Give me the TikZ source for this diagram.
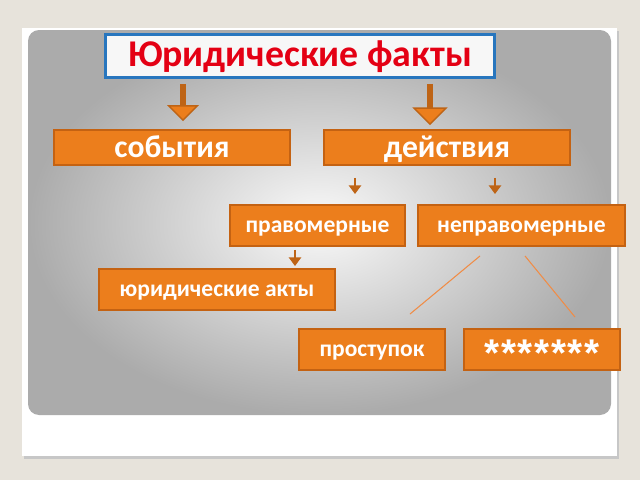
\documentclass[tikz,border=0pt]{standalone}
\usepackage{fontspec}
\setmainfont{Carlito}
\newfontfamily\starfont{Liberation Sans}[LetterSpace=4]
\usetikzlibrary{arrows.meta, calc, positioning}

\definecolor{bgbeige}{RGB}{231,227,219}
\definecolor{orng}{RGB}{236,126,28}
\definecolor{boxedge}{RGB}{196,98,18}
\definecolor{arrbrown}{RGB}{190,100,22}
\definecolor{titleblue}{RGB}{40,118,190}
\definecolor{titlered}{RGB}{228,0,20}
\definecolor{linorange}{RGB}{240,140,70}

\begin{document}
\begin{tikzpicture}[x=0.02cm, y=-0.02cm,
    box/.style={draw=boxedge, fill=orng, line width=1.1pt, text=white,
      font=\bfseries\fontsize{13.4}{16}\selectfont, minimum height=0.82cm, inner sep=0pt,
      text height=8pt, text depth=0pt},
    bigbox/.style={box, minimum height=0.7cm, font=\bfseries\fontsize{18}{20}\selectfont,
      text height=11pt},
    bigarrow/.style={draw=arrbrown, line width=3.4pt,
      -{Triangle[width=18pt, length=9pt, line width=0.8pt, fill=orng]}},
    smallarrow/.style={draw=arrbrown, line width=1.7pt, -{Triangle[width=7pt, length=5pt]}},
    thinline/.style={draw=linorange, line width=0.6pt}]
  % slide background
  \fill[bgbeige] (0,0) rectangle (640,480);
  \useasboundingbox (0,0) rectangle (640,480);
  \fill[black!22] (24,31) rectangle (619,459);
  \fill[white] (22,28) rectangle (617,456);
  \shade[rounded corners=0.22cm, inner color=gray!4, outer color=gray!66] (28,30) rectangle (611,415);

  % title
  \node[draw=titleblue, line width=1.7pt, fill=white!94!gray, minimum width=7.8cm, minimum height=0.86cm,
    inner sep=0pt, text height=11.5pt, text depth=0pt,
    text=titlered, font=\bfseries\fontsize{21.5}{24}\selectfont] (facts) at (300,56) {Юридические факты};

  \begin{scope}[every node/.append style={box}]
    \node[bigbox, minimum width=4.72cm] (events) at (172,147.5) {события};
    \node[bigbox, minimum width=4.92cm] (actions) at (447,147.5) {действия};
    \node[minimum width=3.5cm] (lawful) at (317.5,225.5) {правомерные};
    \node[minimum width=4.14cm] (unlawful) at (521.5,225.5) {неправомерные};
    \node[minimum width=4.72cm] (legalacts) at (217,289.5) {юридические акты};
    \node[minimum width=2.92cm] (offence) at (372,349.5) {проступок};
    \node[minimum width=3.12cm, font=\starfont\bfseries\fontsize{22}{22}\selectfont,
      text height=19.6pt] (stars) at (542,349.5) {*******};
  \end{scope}

  \draw[bigarrow] ($(facts.south -| events.north)+(11,5)$) -- ($(events.north)+(11,-8)$);
  \draw[bigarrow, -{Triangle[width=20pt, length=10pt, line width=0.8pt, fill=orng]}]
    ($(facts.south -| actions.north)+(-17,5)$) -- ($(actions.north)+(-17,-4)$);
  \draw[smallarrow] ($(actions.south -| lawful.north)+(37.5,12)$) -- ($(lawful.north)+(37.5,-10)$);
  \draw[smallarrow] ($(actions.south -| unlawful.north)+(-26.5,12)$) -- ($(unlawful.north)+(-26.5,-10)$);
  \draw[smallarrow] ($(lawful.south)+(-22.5,3)$) -- ($(legalacts.north -| lawful.south)+(-22.5,-2)$);
  \draw[thinline] ($(unlawful.south)+(-41.5,9)$) -- ($(offence.north)+(38,-14)$);
  \draw[thinline] ($(unlawful.south)+(3.5,9)$) -- ($(stars.north)+(33,-11)$);
\end{tikzpicture}
\end{document}
